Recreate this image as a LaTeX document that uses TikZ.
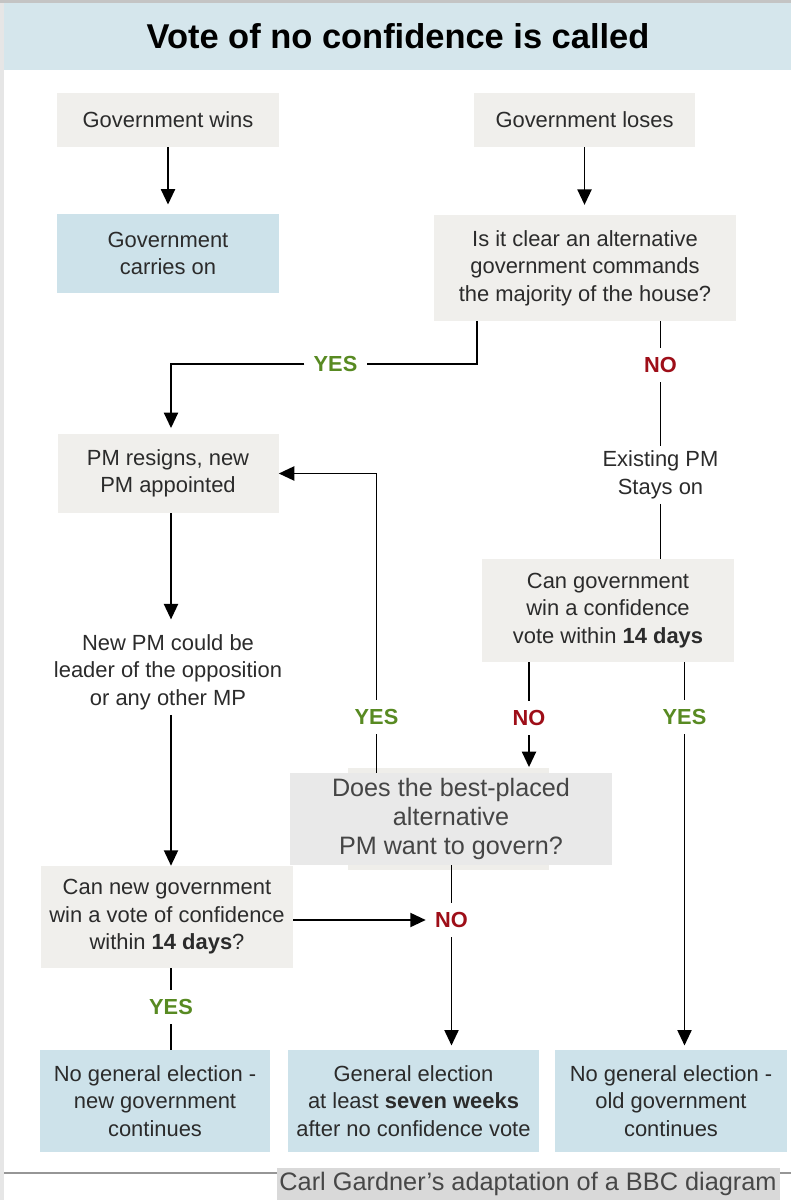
\documentclass[tikz,border=0pt]{standalone}
\usepackage{fontspec}
\setmainfont{Liberation Sans}
\usetikzlibrary{arrows.meta}
\definecolor{bandblue}{RGB}{213,230,236}
\definecolor{boxgray}{RGB}{240,239,236}
\definecolor{boxblue}{RGB}{205,226,234}
\definecolor{bestgray}{RGB}{233,233,233}
\definecolor{bestbeige}{RGB}{239,238,234}
\definecolor{textgray}{RGB}{43,43,43}
\definecolor{yesgreen}{RGB}{88,138,34}
\definecolor{nored}{RGB}{158,14,24}
\definecolor{footgray}{RGB}{217,217,217}
\definecolor{stripgray}{RGB}{230,230,230}
\definecolor{rulegray}{RGB}{150,150,150}
\newcommand\pxu{0.025cm}
\begin{document}
\begin{tikzpicture}[x=0.025cm,y=-0.025cm,
  every node/.style={font=\fontsize{15.6}{19.6}\selectfont,text=textgray,align=center},
  boxsize/.style 2 args={minimum width=#1*\pxu,minimum height=#2*\pxu,inner sep=0pt},
  graybox/.style={fill=boxgray},
  bluebox/.style={fill=boxblue},
  yes/.style={font=\fontsize{15.5}{18}\selectfont\bfseries,text=yesgreen,inner sep=6.5pt},
  no/.style={font=\fontsize{15.5}{18}\selectfont\bfseries,text=nored,inner sep=6.5pt},
  ln/.style={line width=1.4pt},
  arr/.style={line width=1.4pt,-{Triangle[width=10pt,length=11pt]}}]
\useasboundingbox (0,0) rectangle (791,1200);
\fill[white] (0,0) rectangle (791,1200);
\fill[stripgray] (0,0) rectangle (4,1200);
\fill[stripgray!85!black] (0,0) rectangle (791,3);
\fill[bandblue] (4,3) rectangle (791,70);
\node[font=\fontsize{24.5}{28}\selectfont\bfseries,text=black] (title) at (398,36) {Vote of no confidence is called};

\node[graybox,boxsize={222}{54}] (wins) at (168,120) {Government wins};
\node[graybox,boxsize={221}{54}] (loses) at (584.5,120) {Government loses};
\node[bluebox,boxsize={222}{79}] (carries) at (168,253.5) {Government\\carries on};
\node[graybox,boxsize={302}{106}] (clear) at (585,268) {Is it clear an alternative\\government commands\\the majority of the house?};
\node[graybox,boxsize={221}{79}] (resigns) at (168,473.5) {PM resigns, new\\PM appointed};
\node (newpm) at (168,672) {New PM could be\\leader of the opposition\\or any other MP};
\node (stays) at (660.5,475) {Existing PM\\Stays on};
\node[graybox,boxsize={252}{103}] (cangov) at (608,610.5) {Can government\\win a confidence\\vote within \textbf{14 days}};
\fill[bestbeige] (348,768) rectangle (549,870);
\node[fill=bestgray,boxsize={322}{92},font=\fontsize{17.9}{20.6}\selectfont,text=black!73] (best) at (451,819) {Does the best-placed\\alternative\\PM want to govern?};
\node[graybox,boxsize={252}{102}] (cannew) at (167,917) {Can new government\\win a vote of confidence\\within \textbf{14 days}?};
\node[bluebox,boxsize={230}{102}] (noelecnew) at (155,1101) {No general election -\\new government\\continues};
\node[bluebox,boxsize={251}{102}] (general) at (413.5,1101) {General election\\at least \textbf{seven weeks}\\after no confidence vote};
\node[bluebox,boxsize={232}{102}] (noelecold) at (671,1101) {No general election -\\old government\\continues};

\node[yes] (yes1) at (335.5,364) {YES};
\node[no] (no1) at (660.5,365) {NO};
\node[yes] (yes2) at (376.5,717) {YES};
\node[no] (no2) at (529,718) {NO};
\node[yes] (yes3) at (684.5,717) {YES};
\node[no] (no3) at (451.5,920) {NO};
\node[yes] (yes4) at (171,1007) {YES};
\coordinate (yesout) at (477,321);

\draw[arr,shorten >=6.5pt] (wins) -- (carries);
\draw[arr,shorten >=7pt] (loses) -- (loses |- clear.north);
\draw[ln] (yesout) |- (yes1);
\draw[arr,shorten >=4pt] (yes1) -| (yes4 |- resigns.north);
\draw[ln] (clear.south -| no1) -- (no1) -- (stays) -- (stays |- cangov.north);
\draw[arr,shorten >=7pt] (resigns.south -| yes4) -- (yes4 |- newpm.north);
\draw[arr] (newpm.south -| yes4) -- (yes4 |- cannew.north);
\draw[ln] (best.north -| yes2) -- (yes2);
\draw[arr] (yes2) |- (resigns);
\draw[ln] (cangov.south -| no2) -- (no2);
\draw[arr,shorten >=4pt] (no2) -- (no2 |- best.north);
\draw[ln] (cangov.south -| yes3) -- (yes3);
\draw[arr,shorten >=3pt] (yes3) -- (yes3 |- noelecold.north);
\draw[ln] (best.south -| no3) -- (no3);
\draw[arr,shorten >=3pt] (no3) -- (no3 |- general.north);
\draw[arr] (cannew.east |- no3) -- (no3);
\draw[ln] (cannew.south -| yes4) -- (yes4) -- (yes4 |- noelecnew.north);

\draw[rulegray,line width=0.8pt] (4,1173) -- (791,1173);
\node[fill=footgray,boxsize={503}{32},font=\fontsize{18}{20}\selectfont,text=black!72] (credit) at (528,1184) {Carl Gardner’s adaptation of a BBC diagram};
\end{tikzpicture}
\end{document}
